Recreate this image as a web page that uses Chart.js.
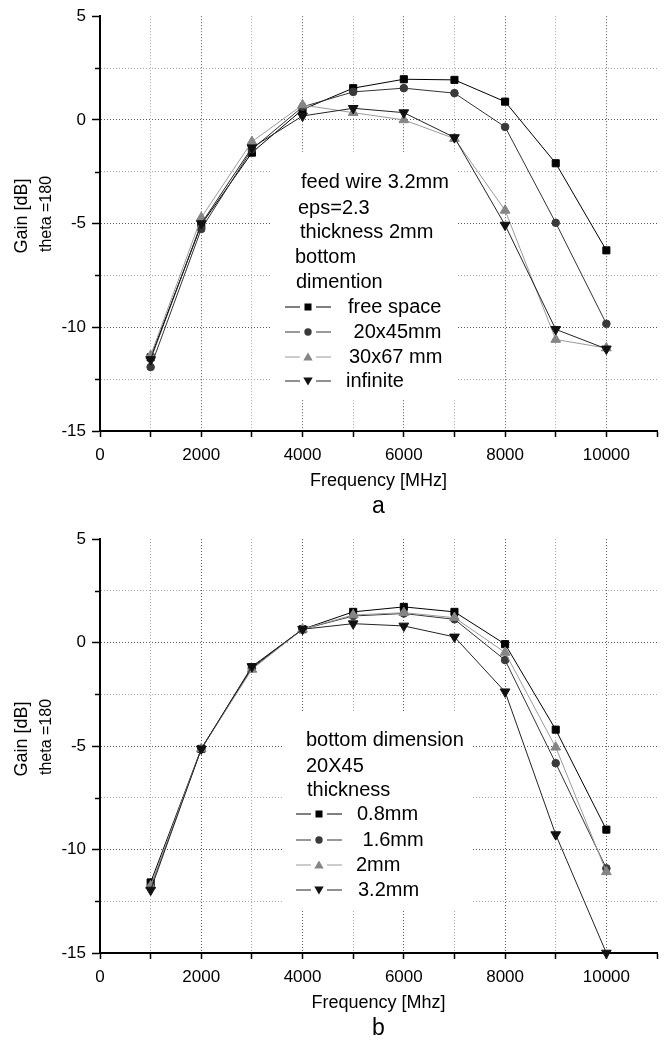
<!DOCTYPE html>
<html><head><meta charset="utf-8">
<script src="https://cdn.jsdelivr.net/npm/chart.js@4/dist/chart.umd.min.js"></script>
<style>
html,body{margin:0;padding:0;background:#fff;}
#wrap{position:relative;width:665px;height:1040px;overflow:hidden;}
canvas{position:absolute;left:0;}
</style>
</head><body>
<div id="wrap">
<canvas id="ca" width="665" height="520" style="top:0"></canvas>
<canvas id="cb" width="665" height="520" style="top:520px"></canvas>
</div>
<script>
// ---------- data ----------
const frequencies = [1000, 2000, 3000, 4000, 5000, 6000, 7000, 8000, 9000, 10000];

// chart a
const freeSpace = [-11.45, -5.05, -1.58, 0.50, 1.53, 1.96, 1.93, 0.88, -2.09, -6.29];
const dim20x45  = [-11.92, -5.26, -1.42, 0.63, 1.35, 1.53, 1.29, -0.34, -4.96, -9.83];
const dim30x67  = [-11.36, -4.71, -1.05, 0.72, 0.35, 0.00, -0.90, -4.36, -10.59, -11.00];
const infinite  = [-11.55, -5.00, -1.34, 0.19, 0.56, 0.35, -0.85, -5.07, -10.10, -11.04];
const labelsA   = ['free space', ' 20x45mm', '30x67 mm', 'infinite'];
const headerA   = ['feed wire 3.2mm', 'eps=2.3', 'thickness 2mm', 'bottom', 'dimention'];

// chart b
const t08 = [-11.59, -5.14, -1.20, 0.64, 1.48, 1.72, 1.48, -0.08, -4.21, -9.04];
const t16 = [-11.80, -5.14, -1.25, 0.64, 1.28, 1.40, 1.12, -0.85, -5.83, -10.91];
const t20 = [-11.76, -5.14, -1.30, 0.64, 1.33, 1.44, 1.20, -0.48, -5.06, -11.08];
const t32 = [-11.96, -5.14, -1.16, 0.64, 0.91, 0.80, 0.27, -2.38, -9.28, -15.00];
const labelsB = ['0.8mm', ' 1.6mm', '2mm', '3.2mm'];
const headerB = ['bottom dimension', '20X45', 'thickness'];

// axes
const xMin = 0, xMax = 11000, xStep = 1000;
const yMin = -15, yMax = 5, yStep = 2.5;
const yTitleLines = ['Gain [dB]', 'theta =180'];
const xTitleA = 'Frequency [MHz]';
const xTitleB = 'Frequency [Mhz]';
const captionA = 'a';
const captionB = 'b';

// ---------- styles ----------
const FONT = '"Liberation Sans", Arial, Helvetica, sans-serif';
const seriesStyle = [
  {pointStyle: 'rect', radius: 5.0, rotation: 0, color: '#000000', line: '#000000'},
  {pointStyle: 'circle', radius: 3.8, rotation: 0, color: '#3a3a3a', line: '#333333'},
  {pointStyle: 'triangle', radius: 5.6, rotation: 0, color: '#858585', line: '#9a9a9a'},
  {pointStyle: 'triangle', radius: 5.6, rotation: 180, color: '#111111', line: '#222222'}
];

function toPoints(arr) { return frequencies.map((f, i) => ({x: f, y: arr[i]})); }

function legendMarker(ctx, idx, x, y) {
  const s = seriesStyle[idx];
  ctx.fillStyle = s.color;
  ctx.beginPath();
  if (idx === 0) ctx.rect(x - 3.5, y - 3.5, 7, 7);
  else if (idx === 1) ctx.arc(x, y, 3.7, 0, Math.PI * 2);
  else if (idx === 2) { ctx.moveTo(x, y - 4.5); ctx.lineTo(x + 4.7, y + 3.5); ctx.lineTo(x - 4.7, y + 3.5); ctx.closePath(); }
  else { ctx.moveTo(x, y + 4.5); ctx.lineTo(x + 4.7, y - 3.5); ctx.lineTo(x - 4.7, y - 3.5); ctx.closePath(); }
  ctx.fill();
}

const extras = {
  id: 'extras',
  beforeDatasetsDraw(chart, args, o) {
    const ctx = chart.ctx;
    ctx.save();
    ctx.fillStyle = '#ffffff';
    ctx.fillRect(o.box[0], o.box[1], o.box[2], o.box[3]);
    // short minor ticks on y axis
    const ys = chart.scales.y;
    ctx.strokeStyle = '#000';
    ctx.lineWidth = 1.5;
    ys.ticks.forEach(t => {
      if (t.value % 5 !== 0) {
        const py = Math.round(ys.getPixelForValue(t.value)) + 0.5;
        ctx.beginPath();
        ctx.moveTo(ys.right - 5, py);
        ctx.lineTo(ys.right, py);
        ctx.stroke();
      }
    });
    ctx.restore();
  },
  afterDraw(chart, args, o) {
    const ctx = chart.ctx, ca = chart.chartArea;
    ctx.save();
    ctx.fillStyle = '#000';
    ctx.textBaseline = 'middle';
    // y title (rotated, two lines)
    o.yTitle.forEach(t => {
      ctx.save();
      ctx.translate(t.x, t.y);
      ctx.rotate(-Math.PI / 2);
      ctx.textAlign = 'center';
      ctx.font = t.size + 'px ' + FONT;
      ctx.fillText(t.text, 0, 0);
      ctx.restore();
    });
    const cx = (ca.left + ca.right) / 2;
    ctx.textAlign = 'center';
    ctx.font = '18px ' + FONT;
    ctx.fillText(o.xTitle, cx, ca.bottom + o.xTitleDy);
    ctx.font = '23px ' + FONT;
    ctx.fillText(o.caption, cx, ca.bottom + o.captionDy);
    // legend header
    ctx.textAlign = 'left';
    ctx.font = '20px ' + FONT;
    o.header.forEach((h, i) => ctx.fillText(h, o.headerX[i], o.headerY[i]));
    // legend entries
    chart.data.datasets.forEach((ds, i) => {
      const y = o.entryY[i];
      ctx.strokeStyle = seriesStyle[i].line;
      ctx.lineWidth = 1;
      ctx.beginPath();
      ctx.moveTo(o.sym[0], y); ctx.lineTo(o.sym[1] - 8, y);
      ctx.moveTo(o.sym[1] + 8, y); ctx.lineTo(o.sym[2], y);
      ctx.stroke();
      legendMarker(ctx, i, o.sym[1], y);
      ctx.fillStyle = '#000';
      ctx.fillText(ds.label, o.entryX[i], y);
    });
    ctx.restore();
  }
};

function makeChart(id, series, labels, cfg) {
  const datasets = series.map((arr, i) => {
    const s = seriesStyle[i];
    return {
      label: labels[i],
      data: toPoints(arr),
      borderColor: s.line,
      borderWidth: 1,
      backgroundColor: s.color,
      pointStyle: s.pointStyle,
      pointRadius: s.radius,
      pointRotation: s.rotation,
      pointBackgroundColor: s.color,
      pointBorderColor: s.color,
      pointBorderWidth: 1,
      tension: 0,
      clip: false,
      order: 4 - i
    };
  });
  return new Chart(document.getElementById(id), {
    type: 'line',
    data: {datasets},
    options: {
      responsive: false,
      animation: false,
      devicePixelRatio: 1,
      layout: {padding: {left: 0, right: 1, top: cfg.top, bottom: 0}},
      plugins: {
        legend: {display: false},
        tooltip: {enabled: false},
        extras: cfg.extras
      },
      scales: {
        x: {
          type: 'linear', min: xMin, max: xMax,
          afterFit: s => { s.height = cfg.xHeight; },
          ticks: {
            stepSize: xStep, autoSkip: false, maxRotation: 0, padding: 8,
            color: '#000', font: {size: 17, family: FONT},
            callback: v => (v % 2000 === 0 && v <= 10000) ? String(v) : ''
          },
          grid: {
            color: c => {
              const v = c.tick ? c.tick.value : 0;
              if (v === xMin || v === xMax) return 'rgba(0,0,0,0)';
              return v % 2000 === 0 ? '#5a5a5a' : '#a8a8a8';
            },
            lineWidth: 1, tickLength: 6, tickColor: '#000', tickWidth: 1.5
          },
          border: {display: true, color: '#000', width: 2, dash: [1, 2]}
        },
        y: {
          min: yMin, max: yMax,
          afterFit: s => { s.width = 100; },
          ticks: {
            stepSize: yStep, autoSkip: false, padding: 6,
            color: '#000', font: {size: 17, family: FONT},
            callback: v => (v % 5 === 0) ? String(v) : ''
          },
          grid: {
            color: c => {
              const v = c.tick ? c.tick.value : 0;
              if (v === yMin || v === yMax) return 'rgba(0,0,0,0)';
              return v % 5 === 0 ? '#5a5a5a' : '#a8a8a8';
            },
            lineWidth: 1, tickLength: 8, tickWidth: 1.5,
            tickColor: c => (c.tick && c.tick.value % 5 !== 0) ? 'rgba(0,0,0,0)' : '#000'
          },
          border: {display: true, color: '#000', width: 2, dash: [1, 2]}
        }
      }
    },
    plugins: [extras]
  });
}

makeChart('ca', [freeSpace, dim20x45, dim30x67, infinite], labelsA, {
  top: 16, xHeight: 89,
  extras: {
    box: [270, 152, 187, 248],
    yTitle: [{text: yTitleLines[0], x: 22, y: 216, size: 18}, {text: yTitleLines[1], x: 47, y: 214, size: 16}],
    xTitle: xTitleA, xTitleDy: 50,
    caption: captionA, captionDy: 76,
    header: headerA,
    headerX: [301, 298, 300, 295, 296],
    headerY: [182, 208, 232, 257, 282],
    entryY: [307, 332, 357, 381],
    entryX: [348, 348, 349, 346],
    sym: [285, 308, 331]
  }
});

makeChart('cb', [t08, t16, t20, t32], labelsB, {
  top: 19, xHeight: 87,
  extras: {
    box: [282, 192, 191, 198],
    yTitle: [{text: yTitleLines[0], x: 22, y: 219, size: 18}, {text: yTitleLines[1], x: 47, y: 217, size: 16}],
    xTitle: xTitleB, xTitleDy: 50,
    caption: captionB, captionDy: 76,
    header: headerB,
    headerX: [306, 306, 307],
    headerY: [220, 246, 270],
    entryY: [294, 320, 345, 370],
    entryX: [357, 357, 356, 358],
    sym: [296, 319, 342]
  }
});
</script>
</body></html>
